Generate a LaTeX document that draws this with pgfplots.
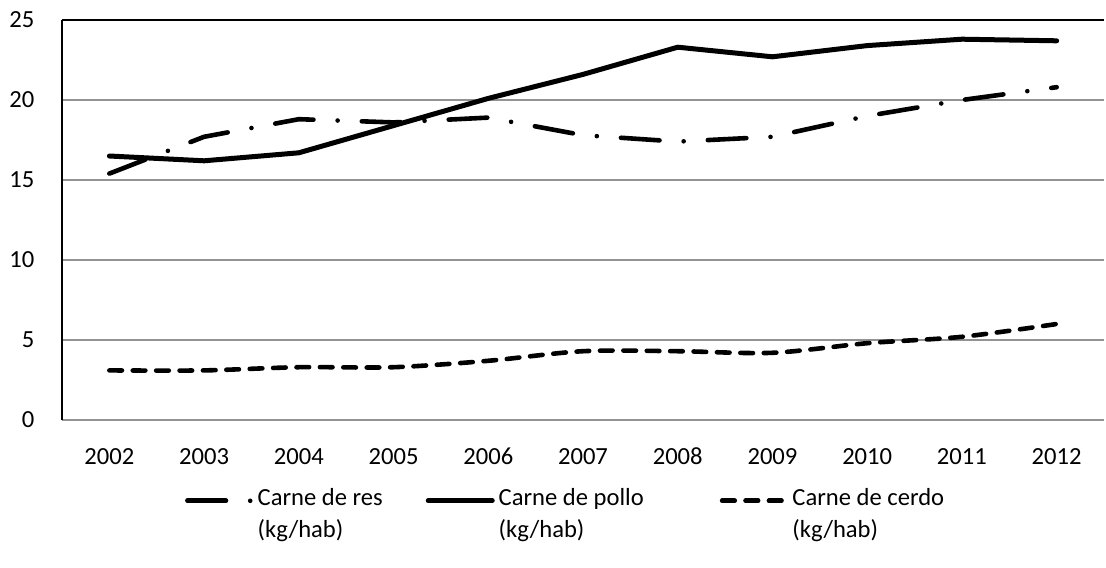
\documentclass[border=0pt]{standalone}
\usepackage{fontspec}
\setmainfont{Carlito}
\usepackage{pgfplots}
\pgfplotsset{compat=1.18}

\begin{document}
\fontsize{12.3}{16}\selectfont
\begin{tikzpicture}
\begin{axis}[
    scale only axis,
    width=521pt, height=200pt,
    xmin=-0.5, xmax=10.5,
    ymin=0, ymax=25,
    xtick={0,...,10},
    xticklabels={2002,2003,2004,2005,2006,2007,2008,2009,2010,2011,2012},
    ytick={0,5,10,15,20},
    extra y ticks={25},
    extra y tick style={grid style={black, line width=0.7pt}},
    ymajorgrids,
    grid style={gray!85, line width=0.6pt},
    axis x line*=bottom,
    axis y line*=left,
    x axis line style={-, draw=gray!85, line width=0.8pt},
    y axis line style={-, draw=black, line width=0.7pt},
    major tick length=0pt,
    /pgf/number format/assume math mode=true,
    yticklabel style={xshift=-9.5pt},
    xticklabel style={yshift=-10pt, text height=8pt, text depth=0pt},
    ticklabel style={font=\fontsize{12.3}{15}\selectfont},
    legend style={at={(0.112,-0.15)}, anchor=north west, draw=none, legend columns=3,
        font=\fontsize{12.3}{16}\selectfont,
        nodes={align=left, inner sep=2pt},
        /tikz/column 2/.style={column sep=19.5pt},
        /tikz/column 4/.style={column sep=36pt}},
    legend cell align=left,
    legend image code/.code={\draw[#1] (0pt,7pt) -- (32pt,7pt);},
]
\addplot[black, line width=2.3pt, line cap=round,
    dash pattern=on 19.3pt off 12.1pt on 0pt off 12.1pt] coordinates {
    (0,15.4) (1,17.7) (2,18.8) (3,18.6) (4,18.9) (5,17.8)
    (6,17.4) (7,17.7) (8,19.0) (9,20.0) (10,20.8)
};
\addlegendentry{Carne de res\\(kg/hab)}
\addplot[black, line width=2.5pt, line cap=round, line join=round] coordinates {
    (0,16.5) (1,16.2) (2,16.7) (3,18.4) (4,20.1) (5,21.6)
    (6,23.3) (7,22.7) (8,23.4) (9,23.8) (10,23.7)
};
\addlegendentry{Carne de pollo\\(kg/hab)}
\addplot[black, line width=2.3pt, line cap=round, smooth,
    dash pattern=on 6.3pt off 5.4pt] coordinates {
    (0,3.1) (1,3.1) (2,3.3) (3,3.3) (4,3.7) (5,4.3)
    (6,4.3) (7,4.2) (8,4.8) (9,5.2) (10,6.0)
};
\addlegendentry{Carne de cerdo\\(kg/hab)}
\end{axis}
\pgfresetboundingbox
\path ([xshift=-31pt,yshift=-73.5pt]current axis.south west) rectangle ([xshift=1pt,yshift=10pt]current axis.north east);
\end{tikzpicture}
\end{document}
